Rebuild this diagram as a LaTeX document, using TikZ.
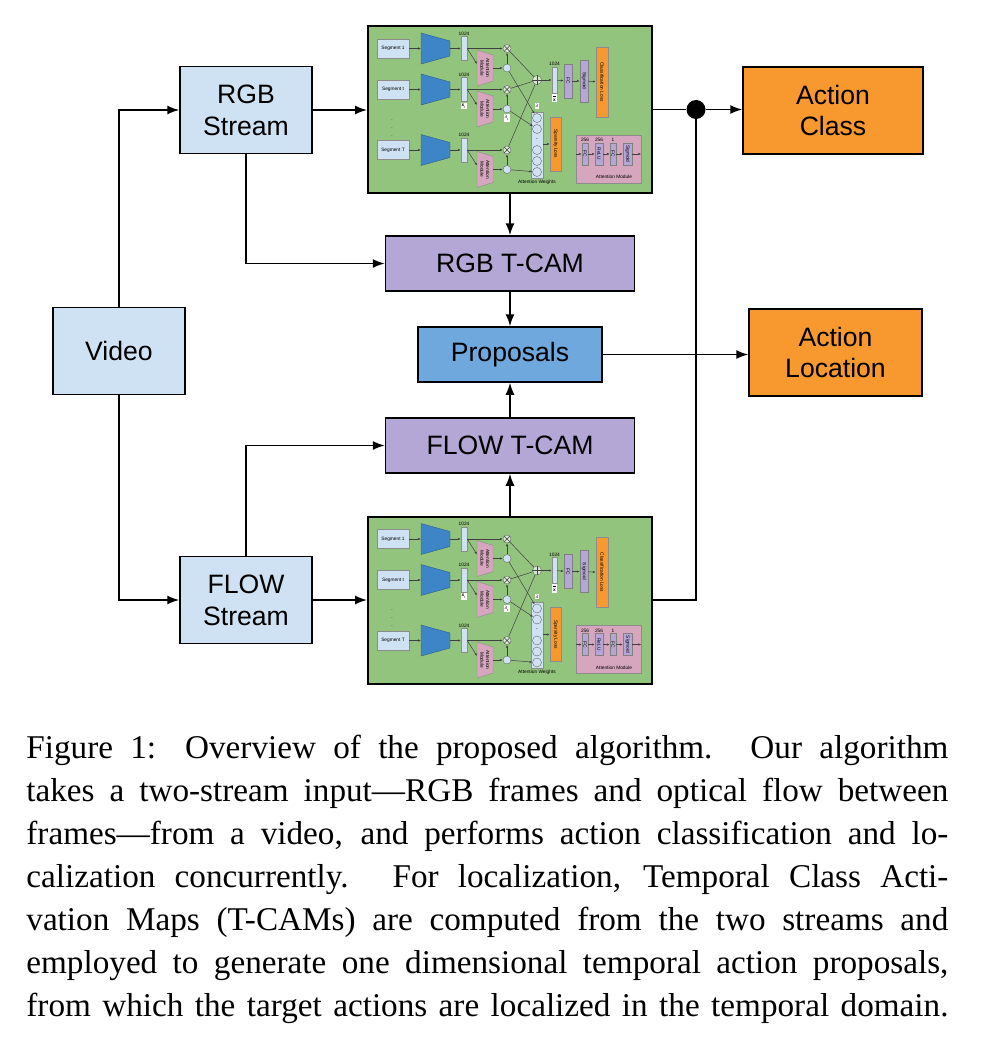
\documentclass[tikz,border=0pt]{standalone}
\usepackage{fontspec}
\setmainfont{Liberation Serif}
\newfontfamily\arial{Liberation Sans}
\usepackage{tikz}
\usetikzlibrary{arrows.meta,positioning,shapes}

\definecolor{boxblue}{HTML}{CFE2F3}
\definecolor{propblue}{HTML}{6FA8DC}
\definecolor{netgreen}{HTML}{93C47D}
\definecolor{camviolet}{HTML}{B4A7D6}
\definecolor{outorange}{RGB}{248,153,48}
\definecolor{cnnblue}{HTML}{3D85C6}
\definecolor{attpink}{HTML}{D5A6BD}
\definecolor{mulgreen}{HTML}{D9EAD3}

\newcommand{\tinyfont}{\arial\fontsize{2.4}{2.8}\selectfont}

% inside of one network box (local px coordinates, origin top left)
\newcommand{\netdetail}[1]{%
    \node[sumc] (#1sum) at (170,55) {};
    \draw[tline] (#1sum.north) -- (#1sum.south) (#1sum.west) -- (#1sum.east);
    \node[wcol] (#1wcol) at (170,120) {};
    \foreach \k/\wy in {1/93,2/104,4/125,5/136,6/147}
        \node[wc] (#1w\k) at (170,\wy) {};
    \node[tinytxt] (#1wdots) at (170,114.5) {-};
    \node[lbl] (#1wlbl) at (170,81) {\itshape λ};
    \node[tinytxt] (#1wtxt) at (170,157) {Attention Weights};
    \node[lossbox, minimum height=5.5pt, minimum width=27pt] (#1spl) at (188.5,119) {Sparsity Loss};
    \draw[tarr] (#1wcol.east |- #1spl) -- (#1spl);
    \node[vecbar, minimum height=13pt, minimum width=2.5pt] (#1xbar) at (187.5,55) {};
    \node[tinytxt] (#1xdim) at (187.5,39) {1024};
    \node[lbl] (#1xlbl) at (187.5,73) {$\overline{\hbox{\bfseries x}}$};
    \node[fcbox, minimum height=4pt, minimum width=17pt] (#1fc) at (201,56) {FC};
    \node[fcbox, minimum height=4pt, minimum width=21pt] (#1sig) at (217,56) {Sigmoid};
    \node[lossbox, minimum height=6pt, minimum width=35pt] (#1cls) at (235,57) {Classification Loss};
    \draw[tarr] (#1sum) -- (#1xbar);
    \draw[tarr] (#1xbar) -- (#1fc);
    \draw[tarr] (#1fc) -- (#1sig);
    \draw[tarr] (#1sig) -- (#1cls);
    % attention module inset
    \node[inset] (#1inset) at (241.5,134) {};
    \node[tinytxt] (#1insettxt) at (247,152) {Attention Module};
    \node[fcbox, minimum height=3pt, minimum width=11pt] (#1afc) at (218,129) {FC};
    \node[fcbox, minimum height=4pt, minimum width=11pt] (#1arelu) at (232,129) {ReLU};
    \node[fcbox, minimum height=3pt, minimum width=11pt] (#1afcb) at (246,129) {FC};
    \node[fcbox, minimum height=4.5pt, minimum width=11pt] (#1asig) at (260.5,129) {Sigmoid};
    \node[tinytxt] at (218,115) {256};
    \node[tinytxt] at (232,115) {256};
    \node[tinytxt] at (246,115) {1};
    \draw[tarr] (#1inset.west |- #1afc) -- (#1afc);
    \draw[tarr] (#1afc) -- (#1arelu);
    \draw[tarr] (#1arelu) -- (#1afcb);
    \draw[tarr] (#1afcb) -- (#1asig);
    \draw[tarr] (#1asig) -- (#1inset.east |- #1asig);
    % the three segment rows
    \foreach \r/\lab/\cy in {a/Segment 1/23.5,b/Segment t/64.5,c/Segment T/125}{
        \node[segbox] (#1seg\r) at (26,\cy) {\lab};
        \filldraw[cnn] (54,\cy-15.5) -- (83,\cy-7.5) -- (83,\cy+7.5) -- (54,\cy+15.5) -- cycle;
        \coordinate (#1cnnin\r) at (54,\cy);
        \coordinate (#1cnnout\r) at (83,\cy);
        \node[vecbar] (#1feat\r) at (97,\cy) {};
        \node[tinytxt] (#1dim\r) at (97,\cy-15) {1024};
        \filldraw[attshape] (110,\cy+1.5) -- (126,\cy+6.5) -- (126,\cy+32.5) -- (110,\cy+37.5) -- cycle;
        \coordinate (#1attin\r) at (110,\cy+15.5);
        \coordinate (#1attout\r) at (126,\cy+19.5);
        \node[tinytxt, rotate=-90, align=center] (#1att\r) at (118,\cy+19.5) {Attention\\Module};
        \node[mulc] (#1mul\r) at (140,\cy) {};
        \draw[tline] (#1mul\r.north west) -- (#1mul\r.south east) (#1mul\r.north east) -- (#1mul\r.south west);
        \node[lamc] (#1lam\r) at (140,\cy+19.5) {};
        \draw[tarr] (#1seg\r) -- (#1cnnin\r);
        \draw[tarr] (#1cnnout\r) -- (#1feat\r);
        \draw[tarr] (#1feat\r.east) -- (#1mul\r);
        \draw[tarr] (#1feat\r.east) -- (#1attin\r);
        \draw[tarr] (#1attout\r) -- (#1lam\r);
        \draw[tarr] (#1lam\r) -- (#1mul\r);
        \draw[tline] (#1mul\r) -- (#1sum);
    }
    \node[tinytxt] (#1vdots) at (25,97) {$\vdots$};
    \node[lbl] (#1xtlbl) at (97,81) {\bfseries x\textsubscript{\mdseries\itshape t}};
    \node[lbl] (#1ltlbl) at (140,93) {\itshape λ\textsubscript{t}};
    \draw[tarr] (#1lama) -- (#1w1);
    \draw[tarr] (#1lamb) -- (#1w2);
    \draw[tarr] (#1lamc) -- (#1w6);
}

\begin{document}
\begin{tikzpicture}[x=0.5pt, y=-0.5pt, node distance=45.5pt, >={Latex[length=6pt,width=4.5pt]}]
    \tikzstyle{inbox}=[rectangle, fill=boxblue, draw=black, line width=0.75pt, minimum width=66pt, minimum height=43.5pt, align=center, inner sep=0pt, font=\arial\fontsize{13.3}{16}\selectfont]
    \tikzstyle{netbox}=[rectangle, fill=netgreen, draw=black, line width=1pt, minimum width=142pt, minimum height=83.5pt]
    \tikzstyle{cam}=[rectangle, fill=camviolet, draw=black, line width=0.75pt, minimum width=124.5pt, minimum height=27.5pt, inner sep=0pt, font=\arial\fontsize{13.3}{16}\selectfont]
    \tikzstyle{propbox}=[cam, fill=propblue, minimum width=92pt]
    \tikzstyle{outbox}=[rectangle, fill=outorange, draw=black, line width=0.75pt, minimum height=43.5pt, align=center, inner sep=0pt, font=\arial\fontsize{13.3}{15.5}\selectfont]
    \tikzstyle{joint}=[circle, fill=black, inner sep=0pt, minimum size=9.5pt]
    \tikzstyle{conn}=[->, line width=0.75pt]
    % small parts inside the network boxes
    \tikzstyle{tinytxt}=[inner sep=0pt, font=\tinyfont]
    \tikzstyle{segbox}=[rectangle, fill=boxblue, draw=black!45, line width=0.2pt, minimum width=16pt, minimum height=9.5pt, inner sep=0pt, font=\tinyfont]
    \tikzstyle{cnn}=[fill=cnnblue, draw=cnnblue!70!black, line width=0.2pt]
    \tikzstyle{attshape}=[fill=attpink, draw=black!45, line width=0.2pt]
    \tikzstyle{vecbar}=[rectangle, fill=boxblue, draw=black!45, line width=0.2pt, minimum width=3pt, minimum height=12pt, inner sep=0pt]
    \tikzstyle{mulc}=[circle, fill=mulgreen, draw=black!60, line width=0.2pt, minimum size=4pt, inner sep=0pt]
    \tikzstyle{lamc}=[circle, fill=boxblue, draw=black!60, line width=0.2pt, minimum size=4pt, inner sep=0pt]
    \tikzstyle{sumc}=[circle, fill=mulgreen, draw=black!60, line width=0.2pt, minimum size=4.5pt, inner sep=0pt]
    \tikzstyle{wcol}=[rectangle, fill=boxblue, draw=black!45, line width=0.2pt, minimum width=6pt, minimum height=33pt, inner sep=0pt]
    \tikzstyle{wc}=[circle, fill=boxblue, draw=black!60, line width=0.2pt, minimum size=4.5pt, inner sep=0pt]
    \tikzstyle{lbl}=[rectangle, fill=white, inner sep=0.4pt, font=\tinyfont]
    \tikzstyle{fcbox}=[rectangle, rotate=-90, fill=camviolet, draw=black!50, line width=0.2pt, inner sep=0pt, font=\tinyfont]
    \tikzstyle{lossbox}=[rectangle, rotate=-90, fill=outorange, draw=black!45, line width=0.2pt, inner sep=0pt, font=\tinyfont]
    \tikzstyle{inset}=[rectangle, fill=attpink, draw=black!45, line width=0.2pt, minimum width=32.5pt, minimum height=24pt]
    \tikzstyle{tarr}=[-{Latex[length=1.4pt,width=1.1pt]}, line width=0.25pt, draw=black!75]
    \tikzstyle{tline}=[line width=0.25pt, draw=black!75]

    \useasboundingbox (0,0) rectangle (992,1054);

    \node[inbox] (video) at (119,351) {Video};
    \node[inbox] (rgb) at (246,110) {RGB\\Stream};
    \node[inbox] (flow) at (246,600) {FLOW\\Stream};
    \node[netbox] (rgbnet) at (510,109.5) {};
    \node[netbox] (flownet) at (510,600) {};
    \node[cam] (rgbcam) at (510,263.5) {RGB T-CAM};
    \node[propbox] (prop) [below of=rgbcam] {Proposals};
    \node[cam] (flowcam) [below of=prop] {FLOW T-CAM};
    \node[outbox, minimum width=90pt] (cls) at (833,110.5) {Action\\Class};
    \node[outbox, minimum width=86.5pt] (loc) at (835.5,352.5) {Action\\Location};
    \node[joint] (dot) at (696,109.5) {};

    \begin{scope}[shift={(rgbnet.north west)}]
        \netdetail{r}
    \end{scope}
    \begin{scope}[shift={(flownet.north west)}]
        \netdetail{f}
    \end{scope}

    \draw[conn] (video.north) |- (rgb.west);
    \draw[conn] (video.south) |- (flow.west);
    \draw[conn] (rgb.east) -- (rgb.east -| rgbnet.west);
    \draw[conn] (flow.east) -- (flownet.west);
    \draw[conn] (rgb.south) |- (rgbcam.west);
    \draw[conn] (flow.north) |- (flowcam.west);
    \draw[conn] (rgbnet.south) -- (rgbcam.north);
    \draw[conn] (flownet.north) -- (flowcam.south);
    \draw[conn] (rgbcam.south) -- (prop.north);
    \draw[conn] (flowcam.north) -- (prop.south);
    \draw[conn] (prop.east) -- (prop.east -| loc.west);
    \draw[line width=0.75pt] (rgbnet.east) -- (dot);
    \draw[line width=0.75pt] (flownet.east) -| (dot);
    \draw[conn] (dot) -- (dot -| cls.west);

    \node[anchor=base west, text width=461pt, align=justify, inner sep=0pt, font=\fontsize{16.6}{21.55}\selectfont] (caption) at (26,758) {\hyphenpenalty=10000 \exhyphenpenalty=10000 \tolerance=10000 \leftskip=0pt \rightskip=0pt \parfillskip=0pt
        Figure 1: Overview of the proposed algorithm. Our algorithm\linebreak
        takes a two-stream input—RGB frames and optical flow between\linebreak
        frames—from a video, and performs action classification and lo-\linebreak
        calization concurrently. For localization, Temporal Class Acti-\linebreak
        vation Maps (T-CAMs) are computed from the two streams and\linebreak
        employed to generate one dimensional temporal action proposals,\linebreak
        from which the target actions are localized in the temporal domain.\par};
\end{tikzpicture}
\end{document}
